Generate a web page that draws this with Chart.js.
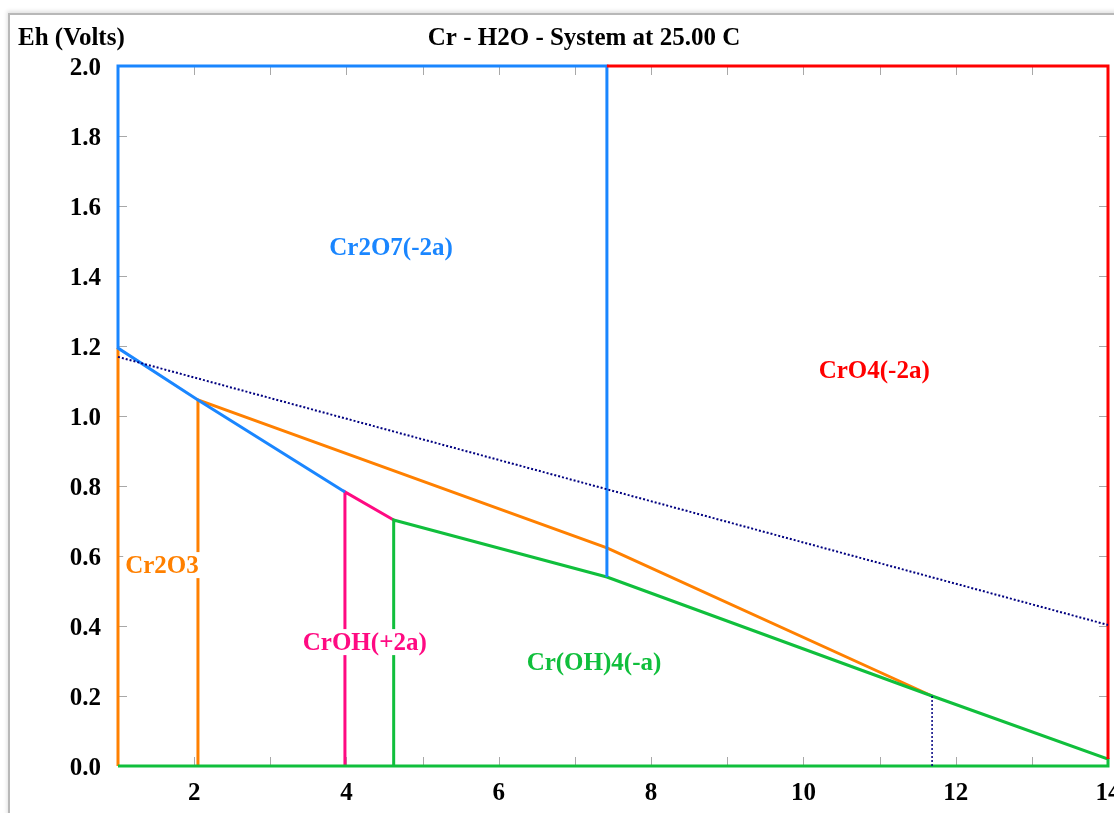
<!DOCTYPE html>
<html>
<head>
<meta charset="utf-8">
<title>Cr - H2O - System</title>
<script src="https://cdn.jsdelivr.net/npm/chart.js@4.4.0/dist/chart.umd.min.js"></script>
<style>
  html, body { margin: 0; padding: 0; background: #fff; overflow: hidden; }
  #wrap { position: relative; width: 1114px; height: 813px; }
  #frame {
    position: absolute; left: 8px; top: 13px; right: -20px; bottom: -20px;
    border-top: 2px solid #b8b8b8; border-left: 2px solid #b8b8b8;
    box-shadow: -1px -2px 4px rgba(0, 0, 0, 0.12);
  }
  canvas { position: absolute; left: 0; top: 0; }
</style>
</head>
<body>
<div id="wrap">
  <div id="frame"></div>
  <canvas id="ehChart" width="1114" height="813"></canvas>
</div>
<script>
// pH (x) / Eh in volts (y) points
const cr2o7Boundary = [[3.98, 0.783], [2.05, 1.046], [1, 1.194], [1, 2.0], [7.42, 2.0], [7.42, 0.54]];
const cro4Boundary = [[7.42, 2.0], [14, 2.0], [14, 0.02]];
const cr2o3Left = [[1, 0], [1, 1.194]];
const cr2o3Boundary = [[2.05, 0], [2.05, 1.046], [7.42, 0.623], [11.69, 0.2]];
const crohBoundary = [[3.98, 0], [3.98, 0.783], [4.62, 0.703]];
const croh4Boundary = [[4.62, 0], [4.62, 0.703], [7.42, 0.54], [11.69, 0.2], [14, 0.02], [14, 0], [1, 0]];
const waterLine = [[1, 1.169], [14, 0.403]];
const waterDrop = [[11.69, 0], [11.69, 0.2]];

// field labels: text, pH, Eh, colour
const fieldLabels = [
  ['Cr2O7(-2a)', 4.585, 1.48, '#1a86ff'],
  ['CrO4(-2a)', 10.93, 1.131, '#ff0000'],
  ['Cr2O3', 1.578, 0.574, '#ff8000'],
  ['CrOH(+2a)', 4.24, 0.354, '#ff0a82'],
  ['Cr(OH)4(-a)', 7.25, 0.297, '#10bf3c']
];

const xTickValues = [2, 4, 6, 8, 10, 12, 14];
const xMinorTicks = [2, 3, 4, 5, 6, 7, 8, 9, 10, 11, 12, 13];
const yTickValues = [0, 0.2, 0.4, 0.6, 0.8, 1.0, 1.2, 1.4, 1.6, 1.8, 2.0];
const yMinorTicks = [0.2, 0.4, 0.6, 0.8, 1.0, 1.2, 1.4, 1.6, 1.8];

const FONT = '"Liberation Serif", "Times New Roman", serif';

const toPoints = arr => arr.map(p => ({ x: p[0], y: p[1] }));

function line(points, color, extra) {
  return Object.assign({
    data: toPoints(points),
    showLine: true,
    borderColor: color,
    borderWidth: 3,
    pointRadius: 0,
    fill: false,
    tension: 0,
    clip: false
  }, extra || {});
}

// tick marks inside the plot frame, plus title and field names
const decorPlugin = {
  id: 'decor',
  beforeDatasetsDraw(chart) {
    const { ctx, chartArea: a, scales: { x, y } } = chart;
    ctx.save();
    ctx.strokeStyle = '#a8a8a8';
    ctx.lineWidth = 1;
    ctx.beginPath();
    xMinorTicks.forEach(v => {
      const px = Math.round(x.getPixelForValue(v)) + 0.5;
      ctx.moveTo(px, a.top); ctx.lineTo(px, a.top + 9);
      ctx.moveTo(px, a.bottom); ctx.lineTo(px, a.bottom - 9);
    });
    yMinorTicks.forEach(v => {
      const py = Math.round(y.getPixelForValue(v)) + 0.5;
      ctx.moveTo(a.left, py); ctx.lineTo(a.left + 9, py);
      ctx.moveTo(a.right, py); ctx.lineTo(a.right - 9, py);
    });
    ctx.stroke();
    ctx.restore();
  },
  afterDraw(chart) {
    const { ctx, scales: { x, y } } = chart;
    ctx.save();
    ctx.font = 'bold 25px ' + FONT;
    ctx.textBaseline = 'middle';
    ctx.fillStyle = '#000';
    ctx.textAlign = 'left';
    ctx.fillText('Eh (Volts)', 18, 39);
    ctx.textAlign = 'center';
    ctx.fillText('Cr - H2O - System at 25.00 C', 584, 39);
    fieldLabels.forEach(([text, px, py, color]) => {
      const cx = x.getPixelForValue(px);
      const cy = y.getPixelForValue(py);
      const w = ctx.measureText(text).width;
      ctx.fillStyle = '#fff';
      ctx.fillRect(cx - w / 2 - 2, cy - 13, w + 4, 26);
      ctx.fillStyle = color;
      ctx.fillText(text, cx, cy + 1);
    });
    ctx.restore();
  }
};

new Chart(document.getElementById('ehChart'), {
  type: 'scatter',
  data: {
    datasets: [
      line(waterLine, '#000080', { borderWidth: 2, borderDash: [2, 2] }),
      line(waterDrop, '#000080', { borderWidth: 1.5, borderDash: [2, 2] }),
      line(cro4Boundary, '#ff0000'),
      line(cr2o7Boundary, '#1a86ff'),
      line(croh4Boundary, '#10bf3c'),
      line(crohBoundary, '#ff0a82'),
      line(cr2o3Boundary, '#ff8000'),
      line(cr2o3Left, '#ff8000')
    ]
  },
  options: {
    responsive: false,
    animation: false,
    layout: { padding: { top: 66, right: 6, left: 0, bottom: 0 } },
    plugins: {
      legend: { display: false },
      tooltip: { enabled: false },
      title: { display: false }
    },
    scales: {
      x: {
        type: 'linear',
        min: 1,
        max: 14,
        grid: { display: false, drawTicks: false },
        border: { display: false },
        ticks: {
          padding: 13,
          color: '#000',
          font: { family: FONT, size: 25, weight: 'bold' },
          maxRotation: 0
        },
        afterBuildTicks: scale => { scale.ticks = xTickValues.map(v => ({ value: v })); },
        afterFit: scale => { scale.height = 47; scale.paddingLeft = 0; scale.paddingRight = 0; }
      },
      y: {
        type: 'linear',
        min: 0,
        max: 2,
        grid: { display: false, drawTicks: false },
        border: { display: false },
        ticks: {
          padding: 17,
          labelOffset: 3,
          color: '#000',
          font: { family: FONT, size: 25, weight: 'bold' },
          callback: v => Number(v).toFixed(1)
        },
        afterBuildTicks: scale => { scale.ticks = yTickValues.map(v => ({ value: v })); },
        afterFit: scale => { scale.width = 118; scale.paddingTop = 0; scale.paddingBottom = 0; }
      }
    }
  },
  plugins: [decorPlugin]
});
</script>
</body>
</html>
